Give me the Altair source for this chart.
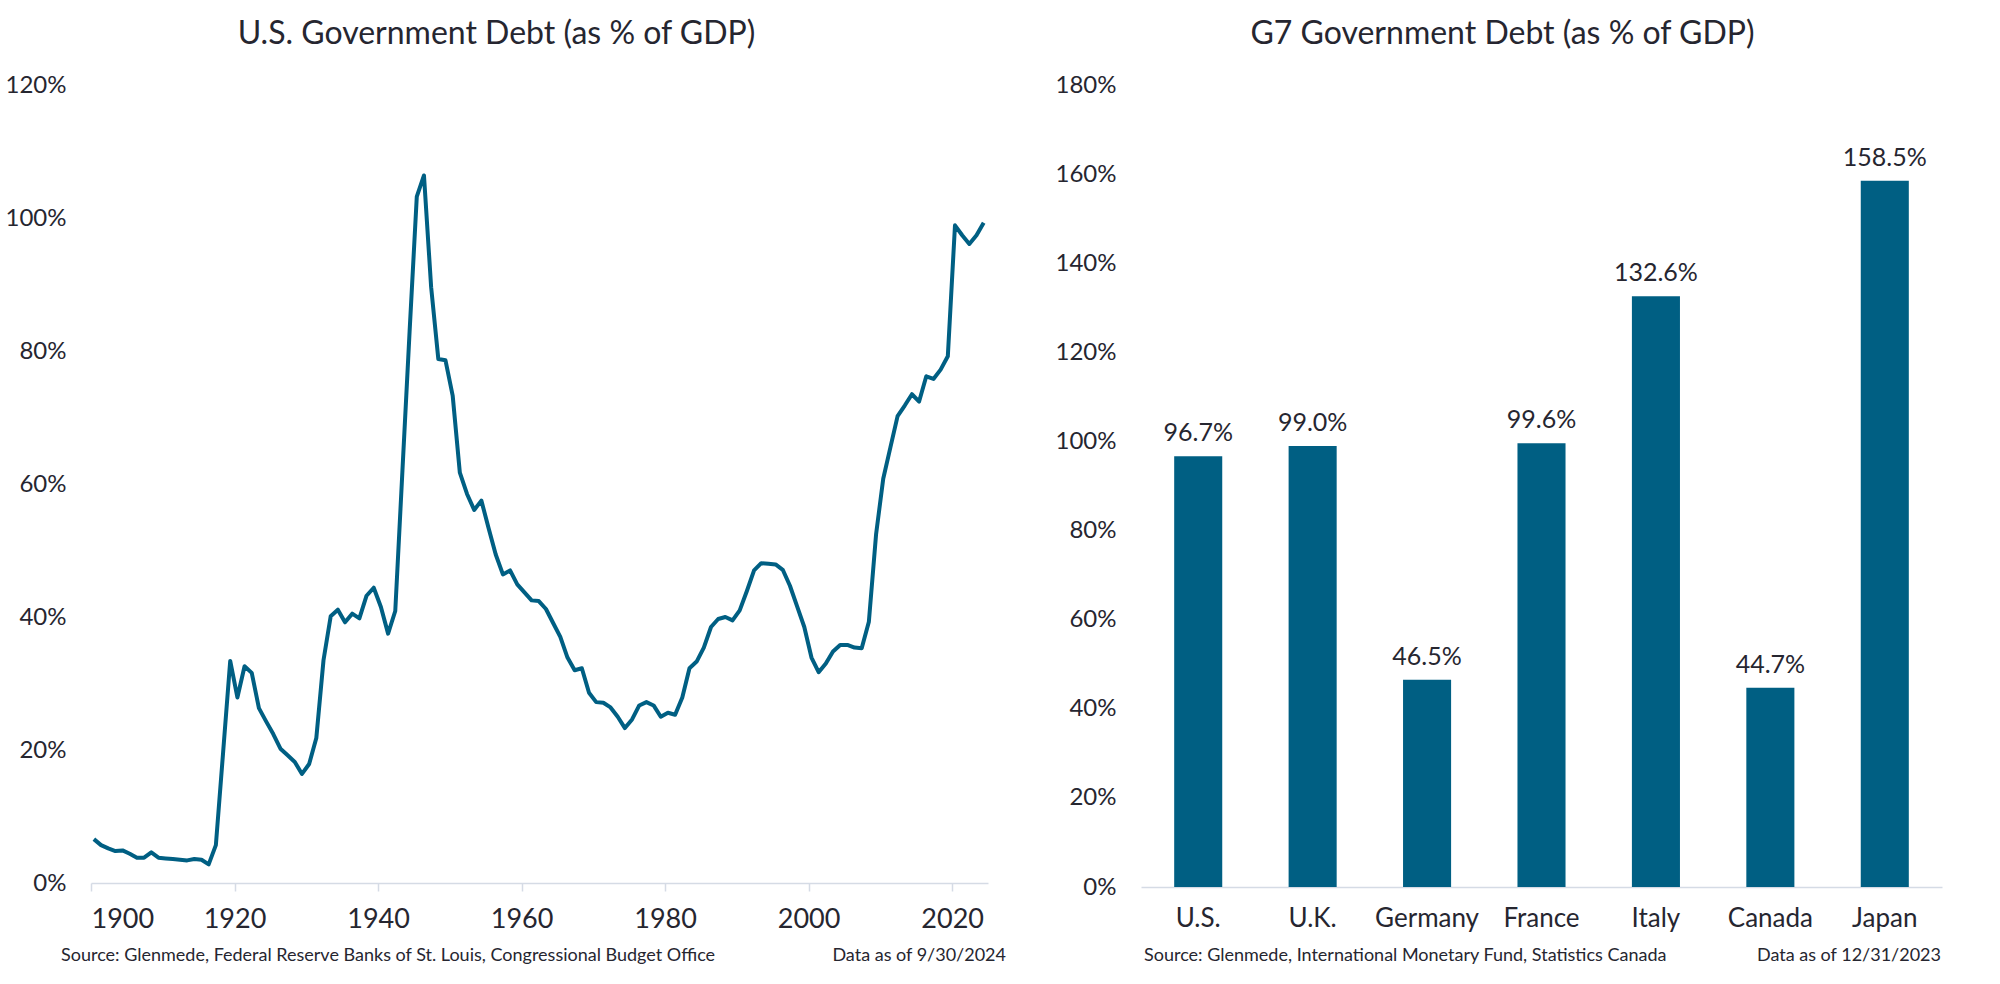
import altair as alt
import pandas as pd

# ---------------- data ----------------
years = list(range(1900, 2025))
us_debt = [
    6.6, 5.7, 5.2, 4.8, 4.9, 4.4, 3.8, 3.8, 4.6, 3.8,          # 1900-1909
    3.7, 3.6, 3.5, 3.4, 3.6, 3.5, 2.8, 5.7, 19.5, 33.4,        # 1910-1919
    27.9, 32.6, 31.6, 26.3, 24.3, 22.4, 20.2, 19.2, 18.2, 16.4,  # 1920-1929
    17.9, 21.8, 33.5, 40.1, 41.1, 39.2, 40.5, 39.8, 43.2, 44.4,  # 1930-1939
    41.5, 37.5, 40.9, 62.0, 83.0, 103.2, 106.4, 89.6, 78.8, 78.6,  # 1940-1949
    73.3, 61.7, 58.5, 56.1, 57.5, 53.4, 49.4, 46.4, 47.0, 44.9,  # 1950-1959
    43.7, 42.5, 42.4, 41.2, 39.1, 37.0, 33.9, 32.0, 32.3, 28.6,  # 1960-1969
    27.2, 27.1, 26.4, 25.0, 23.3, 24.6, 26.7, 27.2, 26.7, 25.0,  # 1970-1979
    25.6, 25.3, 27.9, 32.3, 33.3, 35.4, 38.5, 39.7, 40.0, 39.5,  # 1980-1989
    41.0, 43.9, 47.0, 48.1, 48.0, 47.9, 47.1, 44.7, 41.6, 38.5,  # 1990-1999
    33.9, 31.7, 33.0, 34.8, 35.8, 35.8, 35.4, 35.3, 39.3, 52.4,  # 2000-2009
    60.8, 65.5, 70.2, 71.8, 73.5, 72.4, 76.2, 75.8, 77.2, 79.2,  # 2010-2019
    98.9, 97.4, 96.1, 97.4, 99.3,                                # 2020-2024
]
x_ticks = [1900, 1920, 1940, 1960, 1980, 2000, 2020]
us_y_ticks = [0, 20, 40, 60, 80, 100, 120]

countries = ["U.S.", "U.K.", "Germany", "France", "Italy", "Canada", "Japan"]
g7_debt = [96.7, 99.0, 46.5, 99.6, 132.6, 44.7, 158.5]
g7_y_ticks = [0, 20, 40, 60, 80, 100, 120, 140, 160, 180]

left_title = "U.S. Government Debt (as % of GDP)"
right_title = "G7 Government Debt (as % of GDP)"
left_source = "Source: Glenmede, Federal Reserve Banks of St. Louis, Congressional Budget Office"
left_asof = "Data as of 9/30/2024"
right_source = "Source: Glenmede, International Monetary Fund, Statistics Canada"
right_asof = "Data as of 12/31/2023"

# ---------------- styling ----------------
FONT = "Lato"
BLUE = "#005F83"
TEXT = "#262630"
AXIS = "#D5DBE5"

us_df = pd.DataFrame({"year": years, "debt": us_debt})
g7_df = pd.DataFrame({"country": countries, "debt": g7_debt})

LW, LH = 897, 798
RW, RH = 801, 802

line = alt.Chart(us_df).transform_calculate(
    xpos="datum.year + 0.4"
).mark_line(color=BLUE, strokeWidth=4, strokeJoin="round").encode(
    x=alt.X("xpos:Q", scale=alt.Scale(domain=[1900, 2025], nice=False, zero=False),
            axis=alt.Axis(values=x_ticks, format="d", title=None, grid=False,
                          domainColor=AXIS, domainWidth=1.5, tickColor=AXIS, tickWidth=1.5,
                          tickSize=8, labelFontSize=27, labelPadding=15,
                          labelColor=TEXT, labelFont=FONT)),
    y=alt.Y("debt:Q", scale=alt.Scale(domain=[0, 120], nice=False),
            axis=alt.Axis(values=us_y_ticks, labelExpr="datum.value + '%'", title=None,
                          grid=False, domain=False, ticks=False, labelFontSize=24,
                          labelPadding=25, labelColor=TEXT, labelFont=FONT)),
)

left_notes = alt.Chart(pd.DataFrame({"t": [left_source]})).mark_text(
    align="left", baseline="middle", fontSize=18, font=FONT, color=TEXT
).encode(text="t:N", x=alt.value(-30), y=alt.value(871))
left_notes2 = alt.Chart(pd.DataFrame({"t": [left_asof]})).mark_text(
    align="right", baseline="middle", fontSize=18, font=FONT, color=TEXT
).encode(text="t:N", x=alt.value(915), y=alt.value(871))

left = alt.layer(line, left_notes, left_notes2).properties(
    width=LW, height=LH,
    title=alt.TitleParams(left_title, fontSize=32, font=FONT, fontWeight="normal",
                          color=TEXT, offset=22, anchor="middle", dx=-43),
)

bars = alt.Chart(g7_df).mark_bar(color=BLUE).encode(
    x=alt.X("country:N", sort=countries,
            scale=alt.Scale(paddingInner=0.58, paddingOuter=0.29),
            axis=alt.Axis(title=None, labelAngle=0, domainColor=AXIS, domainWidth=1.5,
                          ticks=False, labelFontSize=26, labelPadding=18,
                          labelColor=TEXT, labelFont=FONT)),
    y=alt.Y("debt:Q", scale=alt.Scale(domain=[0, 180], nice=False),
            axis=alt.Axis(values=g7_y_ticks, labelExpr="datum.value + '%'", title=None,
                          grid=False, domain=False, ticks=False, labelFontSize=24,
                          labelPadding=25, labelColor=TEXT, labelFont=FONT)),
)
bar_labels = alt.Chart(g7_df).mark_text(
    baseline="bottom", dy=-10, fontSize=25, font=FONT, color=TEXT
).encode(
    x=alt.X("country:N", sort=countries),
    y="debt:Q",
    text=alt.Text("label:N"),
).transform_calculate(label="format(datum.debt, '.1f') + '%'")

right_notes = alt.Chart(pd.DataFrame({"t": [right_source]})).mark_text(
    align="left", baseline="middle", fontSize=18, font=FONT, color=TEXT
).encode(text="t:N", x=alt.value(3), y=alt.value(871))
right_notes2 = alt.Chart(pd.DataFrame({"t": [right_asof]})).mark_text(
    align="right", baseline="middle", fontSize=18, font=FONT, color=TEXT
).encode(text="t:N", x=alt.value(800), y=alt.value(871))

right = alt.layer(bars, bar_labels, right_notes, right_notes2).properties(
    width=RW, height=RH,
    title=alt.TitleParams(right_title, fontSize=32, font=FONT, fontWeight="normal",
                          color=TEXT, offset=22, anchor="middle", dx=-39),
)

chart = alt.hconcat(left, right, spacing=153, bounds="flush").properties(
    padding={"left": 5, "top": 18, "right": 10, "bottom": 5},
    background="white",
).configure_view(stroke=None).configure_concat(spacing=153)

chart.save("out.html", embed_options={"renderer": "svg", "actions": False})
